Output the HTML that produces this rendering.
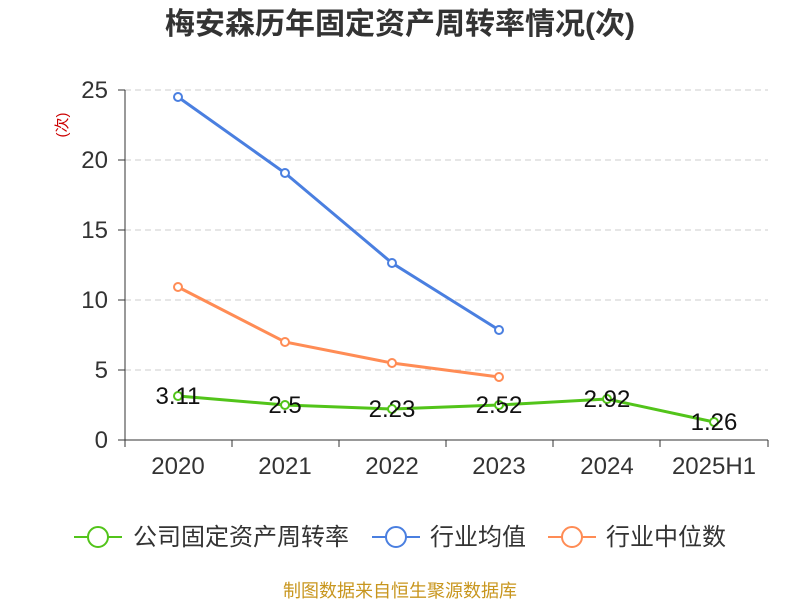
<!DOCTYPE html>
<html><head><meta charset="utf-8"><style>
body{margin:0;background:#fff;}
svg{display:block;font-family:"Liberation Sans","Noto Sans CJK SC",sans-serif;}
</style></head><body>
<svg width="800" height="600" viewBox="0 0 800 600">
<text x="400" y="34" text-anchor="middle" font-size="30" font-weight="bold" fill="#333">梅安森历年固定资产周转率情况(次)</text>
<text transform="translate(67,125) rotate(-90)" text-anchor="middle" font-size="15" fill="#c00">(次)</text>
<g stroke="#ccc" stroke-dasharray="6,4" stroke-width="1">
<line x1="125" y1="90" x2="768" y2="90"/><line x1="125" y1="160" x2="768" y2="160"/><line x1="125" y1="230" x2="768" y2="230"/><line x1="125" y1="300" x2="768" y2="300"/><line x1="125" y1="370" x2="768" y2="370"/>
</g>
<g stroke="#333" stroke-width="1">
<line x1="125" y1="90" x2="125" y2="440"/><line x1="125" y1="440" x2="768" y2="440"/>
<line x1="118" y1="90" x2="125" y2="90"/><line x1="118" y1="160" x2="125" y2="160"/><line x1="118" y1="230" x2="125" y2="230"/><line x1="118" y1="300" x2="125" y2="300"/><line x1="118" y1="370" x2="125" y2="370"/><line x1="118" y1="440" x2="125" y2="440"/>
<line x1="125" y1="440" x2="125" y2="447"/><line x1="232" y1="440" x2="232" y2="447"/><line x1="339" y1="440" x2="339" y2="447"/><line x1="446" y1="440" x2="446" y2="447"/><line x1="553" y1="440" x2="553" y2="447"/><line x1="660" y1="440" x2="660" y2="447"/><line x1="768" y1="440" x2="768" y2="447"/>
</g>
<g font-size="24" fill="#333" text-anchor="end">
<text x="108" y="98">25</text><text x="108" y="168">20</text><text x="108" y="238">15</text><text x="108" y="308">10</text><text x="108" y="378">5</text><text x="108" y="448">0</text>
</g>
<g font-size="24" fill="#333" text-anchor="middle">
<text x="178" y="474">2020</text><text x="285" y="474">2021</text><text x="392" y="474">2022</text><text x="499" y="474">2023</text><text x="607" y="474">2024</text><text x="714" y="474">2025H1</text>
</g>
<polyline points="178,97 285,173 392,263 499,330" fill="none" stroke="#4a7fe0" stroke-width="3"/>
<g fill="#fff" stroke="#4a7fe0" stroke-width="2"><circle cx="178" cy="97" r="4"/><circle cx="285" cy="173" r="4"/><circle cx="392" cy="263" r="4"/><circle cx="499" cy="330" r="4"/></g>
<polyline points="178,287 285,342 392,363 499,377" fill="none" stroke="#ff8c55" stroke-width="3"/>
<g fill="#fff" stroke="#ff8c55" stroke-width="2"><circle cx="178" cy="287" r="4"/><circle cx="285" cy="342" r="4"/><circle cx="392" cy="363" r="4"/><circle cx="499" cy="377" r="4"/></g>
<polyline points="178,396 285,405 392,409 499,405 607,399 714,422" fill="none" stroke="#52c41a" stroke-width="3"/>
<g fill="#fff" stroke="#52c41a" stroke-width="2"><circle cx="178" cy="396" r="4"/><circle cx="285" cy="405" r="4"/><circle cx="392" cy="409" r="4"/><circle cx="499" cy="405" r="4"/><circle cx="607" cy="399" r="4"/><circle cx="714" cy="422" r="4"/></g>
<g font-size="24" fill="#111" text-anchor="middle">
<text x="178" y="404">3.11</text><text x="285" y="413">2.5</text><text x="392" y="417">2.23</text><text x="499" y="413">2.52</text><text x="607" y="407">2.92</text><text x="714" y="430">1.26</text>
</g>
<g stroke-width="2" fill="#fff">
<line x1="74" y1="537" x2="122" y2="537" stroke="#52c41a"/><circle cx="98" cy="537" r="10" stroke="#52c41a"/>
<line x1="372" y1="537" x2="420" y2="537" stroke="#4a7fe0"/><circle cx="396" cy="537" r="10" stroke="#4a7fe0"/>
<line x1="548" y1="537" x2="596" y2="537" stroke="#ff8c55"/><circle cx="572" cy="537" r="10" stroke="#ff8c55"/>
</g>
<g font-size="24" fill="#333">
<text x="133" y="545">公司固定资产周转率</text><text x="430" y="545">行业均值</text><text x="606" y="545">行业中位数</text>
</g>
<text x="400" y="597" text-anchor="middle" font-size="18" fill="#c8961e">制图数据来自恒生聚源数据库</text>
</svg>
</body></html>
